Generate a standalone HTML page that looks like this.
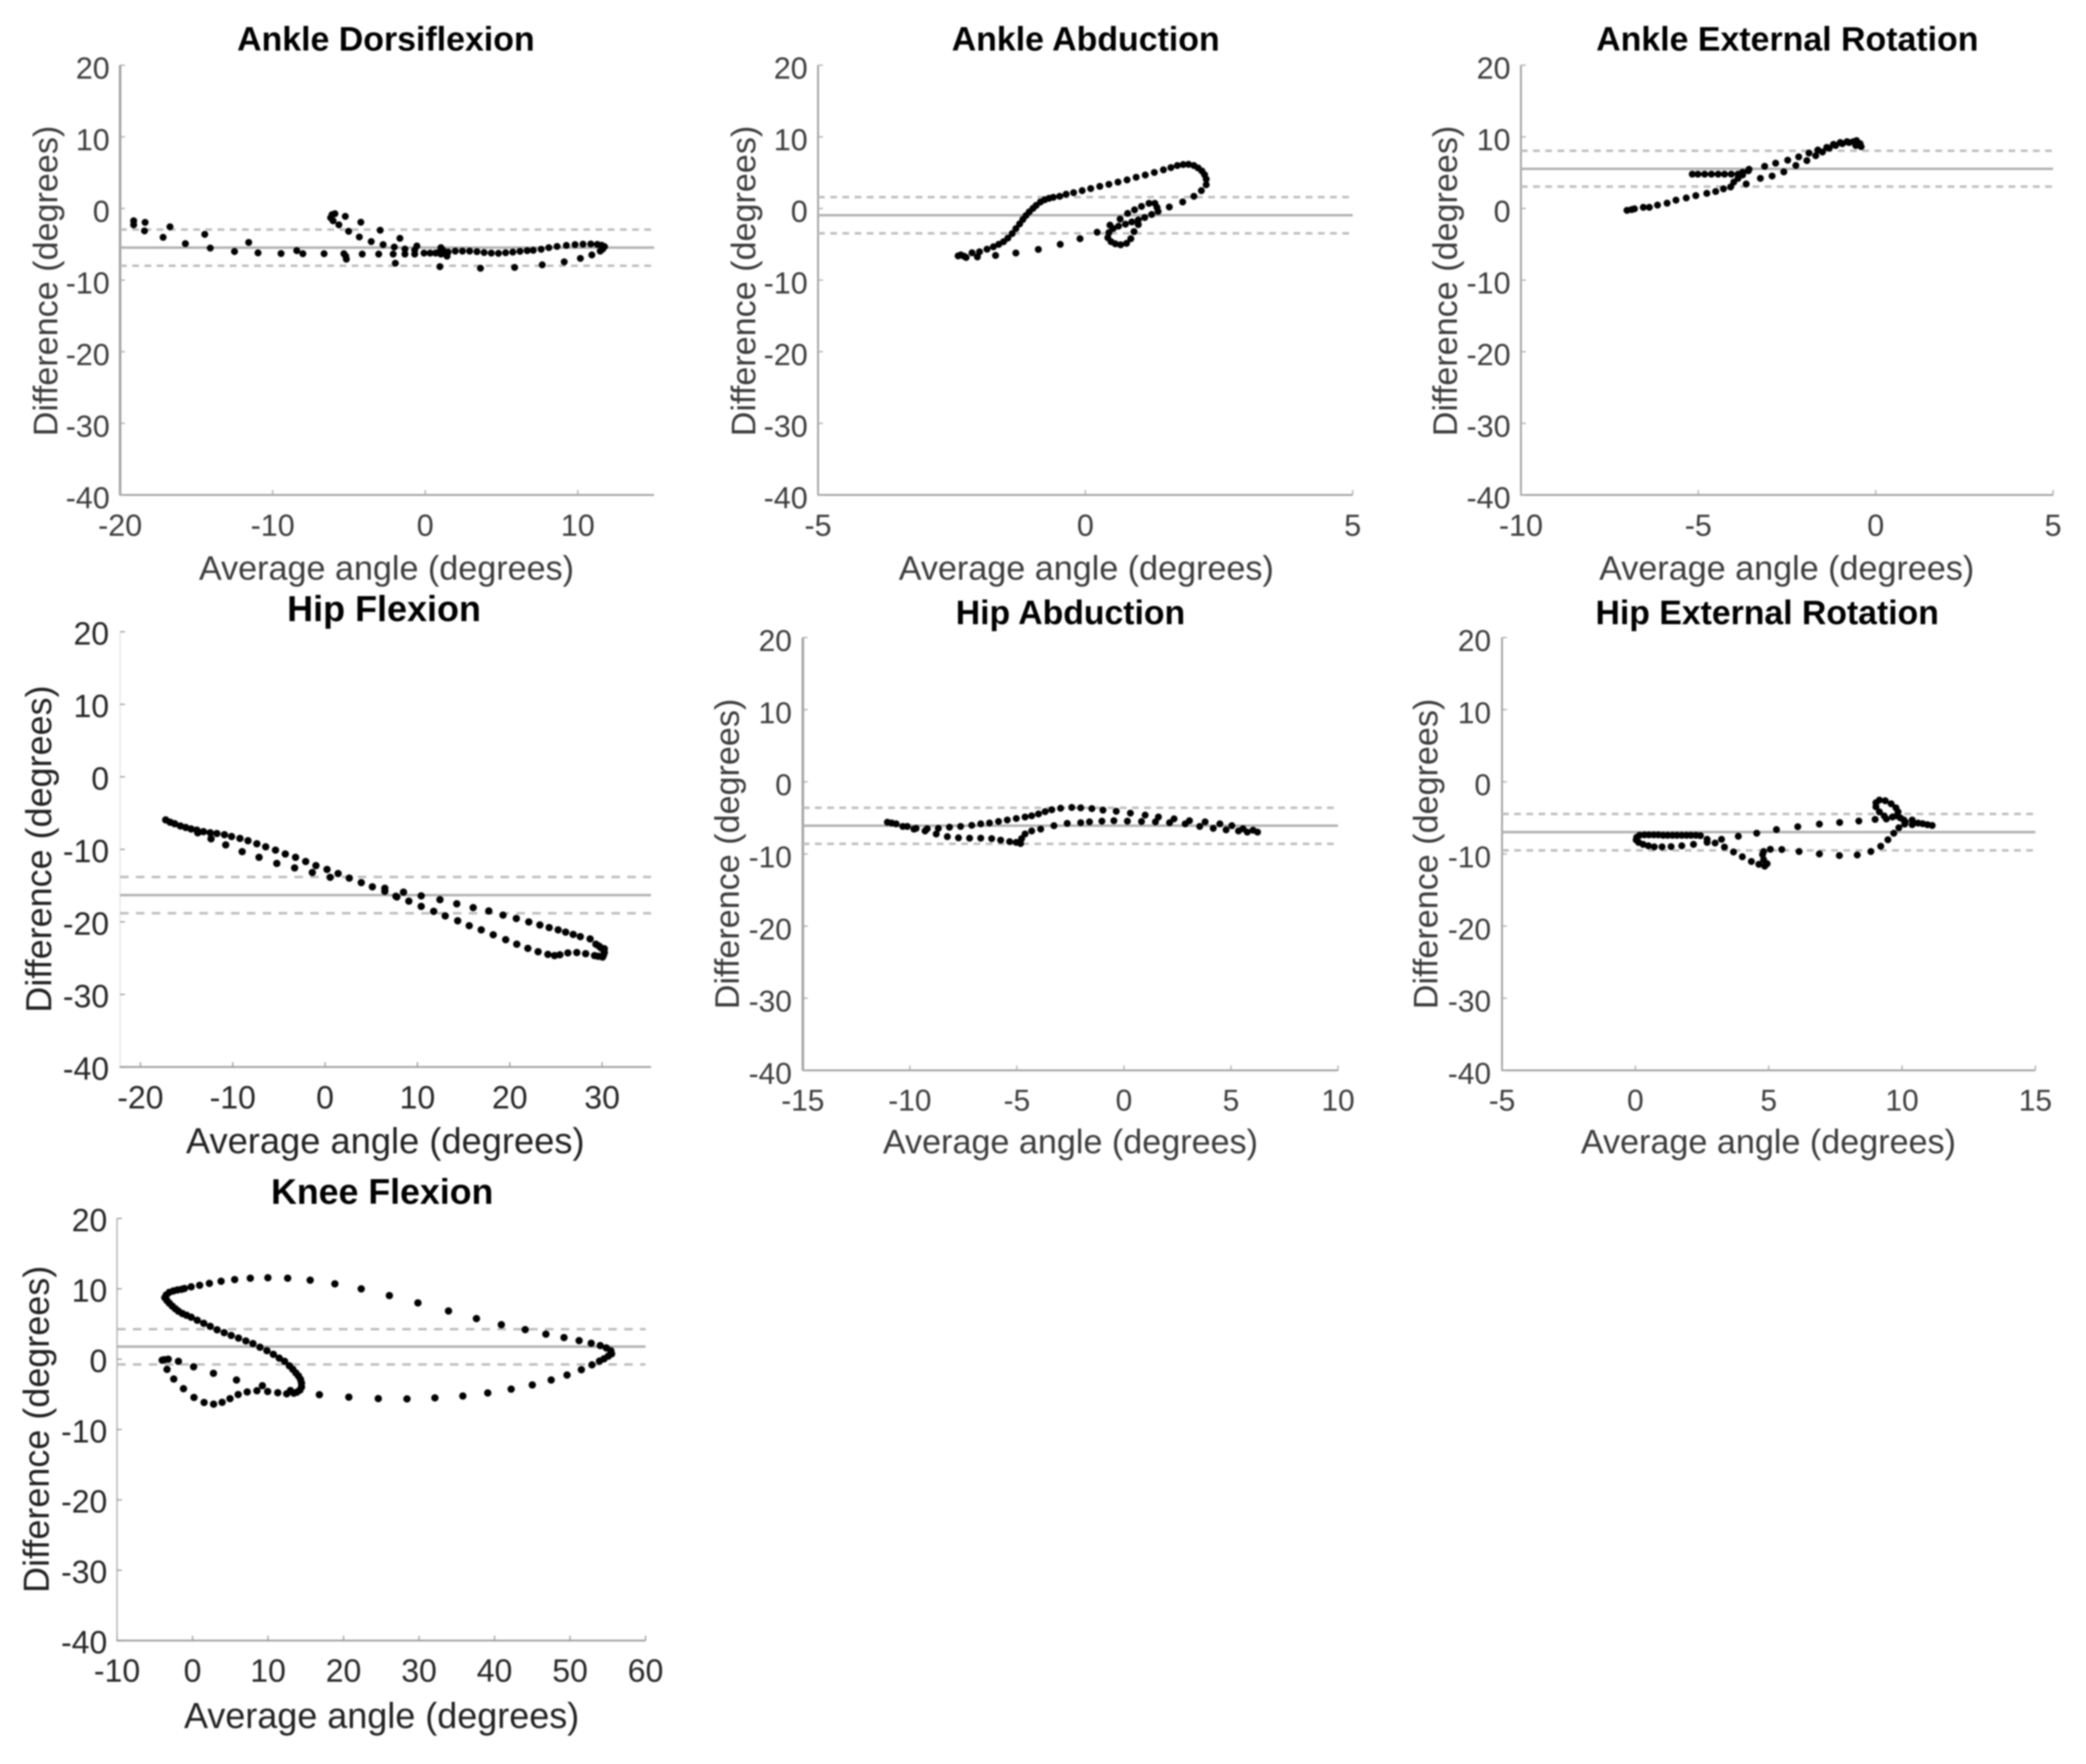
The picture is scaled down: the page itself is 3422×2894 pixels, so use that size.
<!DOCTYPE html>
<html lang="en">
<head>
<meta charset="utf-8">
<title>Difference vs average angle plots</title>
<style>
html,body{margin:0;padding:0;background:#fff;}
#figure{display:block;width:3422px;height:2894px;filter:blur(1.2px);font-family:"Liberation Sans",Arial,sans-serif;}
.t{font-weight:bold;fill:#000;text-anchor:middle;}
.l{fill:#3c3c3c;text-anchor:middle;}
.d{fill:#222;}
</style>
</head>
<body>
<svg id="figure" xmlns="http://www.w3.org/2000/svg" width="3422" height="2894" viewBox="0 0 3422 2894">
<rect width="3422" height="2894" fill="#fff"/>

<g id="p1">
<text class="t" x="633" y="83" font-size="55.6">Ankle Dorsiflexion</text>
<text class="l" x="634" y="951" font-size="56">Average angle (degrees)</text>
<text class="l" transform="translate(94 461) rotate(-90)" font-size="56">Difference (degrees)</text>
</g>

<g id="p2">
<text class="t" x="1781" y="83" font-size="55.6">Ankle Abduction</text>
<text class="l" x="1782" y="951" font-size="56">Average angle (degrees)</text>
<text class="l" transform="translate(1239 461) rotate(-90)" font-size="56">Difference (degrees)</text>
</g>

<g id="p3">
<text class="t" x="2932" y="83" font-size="55.6">Ankle External Rotation</text>
<text class="l" x="2931" y="951" font-size="56">Average angle (degrees)</text>
<text class="l" transform="translate(2390 461) rotate(-90)" font-size="56">Difference (degrees)</text>
</g>

<g id="p4">
<text class="t" x="630" y="1019" font-size="59">Hip Flexion</text>
<text class="l d" x="632" y="1892" font-size="59.5">Average angle (degrees)</text>
<text class="l d" transform="translate(84 1393) rotate(-90)" font-size="59">Difference (degrees)</text>
</g>

<g id="p5">
<text class="t" x="1756" y="1024" font-size="55.4">Hip Abduction</text>
<text class="l" x="1756" y="1892" font-size="56">Average angle (degrees)</text>
<text class="l" transform="translate(1212 1401) rotate(-90)" font-size="56">Difference (degrees)</text>
</g>

<g id="p6">
<text class="t" x="2899" y="1024" font-size="55.4">Hip External Rotation</text>
<text class="l" x="2901" y="1892" font-size="56">Average angle (degrees)</text>
<text class="l" transform="translate(2358 1401) rotate(-90)" font-size="56">Difference (degrees)</text>
</g>

<g id="p7">
<text class="t" x="627" y="1975" font-size="58.6">Knee Flexion</text>
<text class="l d" x="626" y="2835" font-size="59">Average angle (degrees)</text>
<text class="l d" transform="translate(80 2345) rotate(-90)" font-size="59">Difference (degrees)</text>
</g>
</svg>

<script>
const yTickValues = [20, 10, 0, -10, -20, -30, -40];

const ankleDorsiflexionXTicks = [-20, -10, 0, 10];
const ankleAbductionXTicks = [-5, 0, 5];
const ankleRotationXTicks = [-10, -5, 0, 5];
const hipFlexionXTicks = [-20, -10, 0, 10, 20, 30];
const hipAbductionXTicks = [-15, -10, -5, 0, 5, 10];
const hipRotationXTicks = [-5, 0, 5, 10, 15];
const kneeFlexionXTicks = [-10, 0, 10, 20, 30, 40, 50, 60];

// bias, upper limit, lower limit of agreement
const ankleDorsiflexionLimits = [-5.47, -2.95, -8.0];
const ankleAbductionLimits = [-0.95, 1.58, -3.47];
const ankleRotationLimits = [5.53, 8.05, 3.05];
const hipFlexionLimits = [-16.3, -13.8, -18.8];
const hipAbductionLimits = [-6.08, -3.6, -8.6];
const hipRotationLimits = [-6.97, -4.45, -9.5];
const kneeFlexionLimits = [1.78, 4.26, -0.75];

const ankleDorsiflexionAngle = [
-19.11,-19.11,-18.36,-18.40,-16.73,-17.18,-14.45,-15.72,-14.09,-11.57,
-12.5,-10.96,-9.45,-8.42,-8.02,-6.63,-5.33,-5.21,-5.17,-4.13,
-3.05,-6.11,-5.92,-6.2,-6.04,-5.24,-5.66,-4.22,-5.02,-2.95,
-4.32,-3.54,-1.66,-2.76,-2.03,-2.1,-1.96,-1.33,-1.33,-0.55,
-0.69,-0.69,-0.08,0.32,0.68,0.91,1.03,1.27,1.43,1.15,
1.5,1.03,0.96,1.97,2.44,2.91,3.39,3.86,4.33,4.8,
5.27,5.74,6.21,6.68,7.08,7.6,8.1,8.64,9.25,9.82,
10.34,10.85,11.28,11.56,11.75,11.63,11.47,10.92,10.17,9.11,
7.67,5.86,3.62];
const ankleDorsiflexionDiff = [
-1.72,-2.28,-1.94,-3.13,-2.56,-4.03,-3.61,-4.91,-5.53,-4.74,
-6.01,-6.2,-6.29,-5.89,-6.32,-6.32,-6.32,-6.66,-7.08,-6.37,
-6.37,-0.87,-0.73,-1.3,-1.72,-1.1,-2.28,-1.92,-3.19,-3.04,
-3.98,-4.62,-4.17,-5.05,-5.39,-6.37,-7.64,-5.67,-6.37,-5.24,
-5.81,-6.37,-6.23,-6.23,-6.23,-6.09,-6.37,-6.23,-6.66,-5.81,
-6.09,-5.47,-8.12,-5.95,-5.95,-5.95,-6.03,-6.15,-6.23,-6.26,
-6.18,-6.09,-5.98,-5.89,-5.84,-5.7,-5.47,-5.3,-5.16,-5.05,
-4.99,-4.96,-5.02,-5.13,-5.33,-5.67,-5.95,-6.49,-6.97,-7.45,
-7.87,-8.23,-8.35];

const ankleAbductionAngle = [
-2.38,-2.33,-2.27,-2.23,-2.12,-2.02,-1.98,-1.84,-1.72,-1.68,
-1.62,-1.53,-1.45,-1.37,-1.3,-1.23,-1.17,-1.11,-1.05,-0.98,
-0.92,-0.84,-0.76,-0.68,-0.6,-0.48,-0.36,-0.22,-0.06,0.1,
0.27,0.44,0.61,0.78,0.95,1.12,1.29,1.46,1.6,1.72,
1.83,1.93,2.03,2.11,2.18,2.23,2.26,2.26,2.17,2.03,
1.82,1.57,1.36,1.34,1.3,1.19,1.05,0.92,0.79,0.65,
0.46,1.24,1.11,0.99,0.87,0.75,0.62,0.52,0.44,0.42,
0.48,0.56,0.66,0.77,0.85,0.91,0.99,0.22,-0.1,-0.47,
-0.88,-1.3];
const ankleAbductionDiff = [
-6.62,-6.48,-6.67,-6.84,-6.19,-6.76,-6.05,-5.69,-5.35,-6.56,
-5.01,-4.64,-4.14,-3.51,-2.81,-2.16,-1.54,-0.98,-0.47,0.01,
0.43,0.91,1.22,1.42,1.56,1.7,1.99,2.21,2.49,2.78,
3.09,3.37,3.68,3.99,4.36,4.67,5.03,5.4,5.71,5.99,
6.13,6.16,5.99,5.65,5.23,4.72,4.1,3.31,2.49,1.7,
0.91,0.21,-0.41,0.15,0.72,0.72,0.29,-0.19,-0.69,-1.48,
-2.33,-0.84,-1.26,-1.6,-1.88,-2.19,-2.47,-2.81,-3.37,-4.08,
-4.64,-4.93,-5.07,-4.87,-4.22,-3.23,-2.25,-3.32,-4.22,-5.01,
-5.72,-6.22];

const ankleRotationAngle = [
-7.01,-6.88,-6.8,-6.55,-6.38,-6.15,-5.88,-5.63,-5.34,-5.07,
-4.76,-4.51,-4.29,-4.09,-4.0,-3.88,-3.75,-3.59,-5.17,-5.01,
-4.82,-4.63,-4.44,-4.26,-4.07,-3.88,-3.75,-3.57,-3.65,-3.25,
-2.92,-2.59,-2.25,-1.94,-1.69,-1.5,-1.31,-1.13,-0.94,-0.75,
-3.13,-2.82,-2.48,-2.17,-1.88,-1.63,-1.38,-1.19,-1.0,-0.81,
-0.63,-0.54,-0.44,-0.41,-0.56];
const ankleRotationDiff = [
-0.26,-0.16,-0.05,0.16,0.16,0.47,0.74,1.16,1.47,1.79,
2.11,2.37,2.74,3.0,3.68,4.21,4.68,5.26,4.79,4.79,
4.79,4.79,4.79,4.79,4.79,4.79,5.05,5.47,3.42,4.21,
4.53,5.11,6.0,6.68,7.37,7.89,8.42,8.79,9.05,9.21,
5.89,6.32,6.74,7.21,7.74,8.16,8.53,8.95,9.21,9.32,
9.32,9.47,9.05,8.63,8.79];

const hipFlexionAngle = [
-17.26,-16.78,-16.29,-15.67,-15.09,-14.51,-13.89,-13.17,-12.44,-11.72,
-10.9,-10.13,-9.22,-8.35,-7.39,-6.43,-5.37,-4.31,-3.2,-2.1,
-0.99,0.21,1.41,2.62,3.92,5.12,6.47,7.67,8.49,10.41,
12.44,14.26,16.04,17.73,19.27,20.71,22.06,23.26,24.27,25.24,
26.05,26.87,27.64,28.7,29.33,29.9,30.24,30.05,29.18,28.22,
27.26,26.29,25.43,24.85,24.13,23.07,21.96,20.76,19.56,18.21,
16.91,15.61,14.36,13.01,11.76,10.41,9.07,7.77,6.47,0.55,
-1.38,-3.3,-5.23,-7.15,-8.98,-10.76,-12.35,-13.79,30.14,29.57,
30.24,29.66];
const hipFlexionDiff = [
-5.94,-6.25,-6.46,-6.77,-6.98,-7.19,-7.34,-7.55,-7.71,-7.81,
-7.97,-8.23,-8.49,-8.8,-9.22,-9.64,-10.1,-10.63,-11.09,-11.67,
-12.24,-12.76,-13.33,-13.96,-14.58,-15.16,-15.78,-16.46,-15.89,-16.41,
-16.93,-17.5,-18.03,-18.49,-19.06,-19.53,-20.0,-20.42,-20.78,-21.09,
-21.41,-21.72,-22.03,-22.34,-23.07,-23.59,-24.22,-24.84,-24.64,-24.38,
-24.22,-24.27,-24.53,-24.64,-24.48,-24.11,-23.65,-23.07,-22.45,-21.77,
-21.09,-20.52,-19.84,-19.17,-18.54,-17.86,-17.13,-16.56,-15.36,-13.85,
-13.18,-12.55,-11.93,-11.09,-10.31,-9.38,-8.54,-7.71,-24.6,-24.74,
-23.7,-23.33];

const hipAbductionAngle = [
-11.05,-10.85,-10.64,-10.33,-9.81,-9.29,-8.77,-8.25,-7.73,-7.21,
-6.69,-6.18,-5.76,-5.34,-5.03,-4.83,-4.78,-4.62,-4.31,-3.89,
-3.27,-2.65,-2.02,-1.61,-1.03,-0.47,0.16,0.82,1.47,2.13,
2.86,3.54,4.17,4.77,5.35,5.76,6.24,6.03,5.56,5.04,
4.48,3.79,3.06,2.34,1.61,0.99,0.3,-0.36,-0.98,-1.5,
-2.02,-2.44,-2.96,-3.37,-3.68,-3.99,-4.31,-4.62,-5.03,-5.45,
-5.86,-6.28,-6.69,-7.11,-7.63,-8.15,-8.67,-9.19,-9.71,-10.12];
const hipAbductionDiff = [
-5.6,-5.71,-5.82,-6.18,-6.55,-6.81,-7.23,-7.6,-7.76,-7.81,
-7.81,-7.87,-8.08,-8.29,-8.39,-8.55,-7.87,-7.23,-6.81,-6.55,
-6.08,-5.76,-5.66,-5.55,-5.45,-5.39,-5.45,-5.5,-5.55,-5.66,
-5.82,-6.18,-6.45,-6.66,-6.81,-6.97,-6.97,-6.71,-6.5,-6.08,
-5.82,-5.55,-5.39,-5.13,-4.87,-4.61,-4.34,-4.08,-3.92,-3.71,
-3.61,-3.55,-3.66,-3.87,-4.13,-4.45,-4.71,-4.87,-5.08,-5.29,
-5.5,-5.71,-5.82,-6.03,-6.18,-6.29,-6.45,-6.5,-6.45,-6.18];

const hipRotationAngle = [
2.44,2.27,2.09,1.92,1.74,1.56,1.39,1.21,1.04,0.86,
0.69,0.51,0.34,0.16,0.05,0.03,0.12,0.29,0.49,0.71,
1.0,1.34,1.74,2.18,2.69,2.69,2.99,3.23,3.34,3.68,
4.01,4.35,4.63,4.85,4.94,4.81,4.77,4.81,5.06,5.49,
6.14,6.9,7.65,8.32,8.83,9.2,9.47,9.69,9.88,10.1,
10.12,10.38,10.38,10.6,10.77,10.95,11.13,3.86,4.55,5.29,
6.09,6.9,7.66,8.38,8.99,9.41,9.81,9.85,9.77,9.59,
9.37,9.15,9.02,9.02,9.15,9.33,9.64,9.94,10.07];
const hipRotationDiff = [
-7.46,-7.41,-7.41,-7.41,-7.41,-7.41,-7.41,-7.41,-7.41,-7.35,
-7.35,-7.35,-7.35,-7.41,-7.69,-8.05,-8.39,-8.67,-8.87,-9.01,
-9.01,-8.98,-8.87,-8.67,-7.97,-8.39,-8.48,-7.97,-9.04,-9.72,
-10.39,-11.04,-11.43,-11.69,-11.35,-10.79,-10.08,-9.66,-9.35,-9.38,
-9.66,-10.0,-10.22,-10.14,-9.66,-8.93,-8.03,-7.12,-6.36,-5.86,
-5.57,-5.29,-5.94,-5.72,-5.8,-5.94,-6.05,-7.55,-7.12,-6.62,
-6.22,-5.86,-5.63,-5.43,-5.21,-5.15,-4.73,-4.17,-3.6,-3.04,
-2.62,-2.53,-2.9,-3.46,-4.17,-4.73,-4.87,-5.01,-5.29];

const kneeFlexionAngle = [
-3.67,-3.48,-3.08,-2.54,-2.01,-1.47,-1.07,-0.18,0.94,2.23,
3.78,5.58,7.65,9.98,12.6,15.58,18.85,22.34,26.07,29.85,
33.9,37.6,40.9,44.06,46.8,49.2,51.2,52.8,54.0,54.8,
55.4,55.5,55.06,54.5,53.9,52.9,51.5,49.6,47.5,45.0,
42.2,39.1,35.8,32.1,28.4,24.6,20.7,16.8,-3.4,-3.08,
-2.68,-2.28,-1.87,-1.34,-0.8,-0.18,0.62,1.48,2.34,3.25,
4.19,5.12,6.09,7.06,8.0,8.93,9.85,10.7,11.48,12.2,
12.82,13.28,13.68,14.03,14.3,14.43,14.43,14.22,13.81,13.41,
12.96,12.47,11.29,9.95,9.25,8.53,7.24,6.04,4.96,3.92,
2.79,1.53,0.19,-1.2,-2.49,-3.38,-4.02,-3.75,-3.22,-1.87,
0.14,2.77,5.82];
const kneeFlexionDiff = [
8.75,9.13,9.5,9.7,9.84,9.93,10.05,10.28,10.5,10.77,
11.08,11.31,11.51,11.57,11.51,11.23,10.71,9.99,9.04,8.0,
6.85,5.77,4.9,4.2,3.56,3.07,2.64,2.26,1.93,1.6,
1.19,0.75,0.43,0.05,-0.27,-0.81,-1.5,-2.26,-2.96,-3.66,
-4.26,-4.8,-5.23,-5.5,-5.65,-5.6,-5.4,-5.05,8.35,7.97,
7.54,7.17,6.82,6.48,6.25,5.96,5.53,5.1,4.66,4.18,
3.77,3.37,3.0,2.59,2.22,1.7,1.21,0.69,0.15,-0.31,
-0.95,-1.44,-1.95,-2.39,-2.87,-3.39,-3.97,-4.4,-4.69,-4.83,
-4.46,-4.92,-4.77,-4.6,-3.77,-4.49,-4.66,-5.03,-5.61,-6.13,
-6.39,-6.16,-5.44,-4.2,-2.82,-1.46,-0.14,-0.08,0.0,-0.31,
-1.09,-2.01,-2.96];

const SVG_NS = 'http://www.w3.org/2000/svg';

function makeScale(domainMin, domainMax, rangeStart, rangeEnd) {
  return function (v) {
    return rangeStart + (v - domainMin) / (domainMax - domainMin) * (rangeEnd - rangeStart);
  };
}

function addLine(parent, x1, y1, x2, y2, color, width, dash) {
  const el = document.createElementNS(SVG_NS, 'line');
  el.setAttribute('x1', x1);
  el.setAttribute('y1', y1);
  el.setAttribute('x2', x2);
  el.setAttribute('y2', y2);
  el.setAttribute('stroke', color);
  el.setAttribute('stroke-width', width);
  if (dash) el.setAttribute('stroke-dasharray', dash);
  parent.appendChild(el);
  return el;
}

function addLabel(parent, x, y, str, size, anchor, color) {
  const el = document.createElementNS(SVG_NS, 'text');
  el.setAttribute('x', x);
  el.setAttribute('y', y);
  el.setAttribute('font-size', size);
  el.setAttribute('text-anchor', anchor);
  el.setAttribute('fill', color);
  el.textContent = String(str);
  parent.appendChild(el);
  return el;
}

function drawPanel(cfg) {
  const g = document.getElementById(cfg.id);
  const sx = makeScale(cfg.xMin, cfg.xMax, cfg.left, cfg.right);
  const sy = makeScale(-40, 20, cfg.bottom, cfg.top);

  const yAxis = addLine(g, cfg.left, cfg.top, cfg.left, cfg.bottom, cfg.yAxisColor, cfg.yAxisWidth);
  
  
  const xAxis = addLine(g, cfg.left - 1, cfg.bottom, cfg.right, cfg.bottom, '#a0a0a0', 3);
  
  

  yTickValues.forEach(function (v) {
    const tick = addLine(g, cfg.left, sy(v), cfg.left + 8, sy(v), cfg.tickColor, 2);
    
    
    const lab = addLabel(g, cfg.left - cfg.yPad, sy(v) + cfg.yBase, v, cfg.tickSize, 'end', cfg.textColor);
    
    
  });

  cfg.xTicks.forEach(function (v) {
    const tick = addLine(g, sx(v), cfg.bottom, sx(v), cfg.bottom - 8, cfg.tickColor, 2);
    
    
    const lab = addLabel(g, sx(v), cfg.bottom + cfg.xBase, v, cfg.tickSize, 'middle', cfg.textColor);
    
    
  });

  const mean = addLine(g, cfg.left, sy(cfg.limits[0]), cfg.right, sy(cfg.limits[0]), '#b0b0b0', 4);
  
  
  const upper = addLine(g, cfg.left, sy(cfg.limits[1]), cfg.right, sy(cfg.limits[1]), '#bdbdbd', 4, cfg.dash);
  
  
  const lower = addLine(g, cfg.left, sy(cfg.limits[2]), cfg.right, sy(cfg.limits[2]), '#bdbdbd', 4, cfg.dash);
  
  

  cfg.angle.forEach(function (a, i) {
    const dot = document.createElementNS(SVG_NS, 'circle');
    dot.setAttribute('cx', sx(a));
    dot.setAttribute('cy', sy(cfg.diff[i]));
    dot.setAttribute('r', cfg.r);
    dot.setAttribute('fill', '#000');
    
    
    g.appendChild(dot);
  });
}

const topStyle = {yAxisColor:'#a0a0a0', yAxisWidth:3, tickColor:'#aaaaaa', textColor:'#3c3c3c', tickSize:50, yPad:17, yBase:22, xBase:67, dash:'11 9', r:5.7};
const darkStyle = {tickColor:'#999999', textColor:'#262626', tickSize:52.5, yPad:18, yBase:21, xBase:68, dash:'14 12', r:6};

drawPanel(Object.assign({}, topStyle, {id:'p1', left:197, right:1073, top:107, bottom:812, xMin:-20, xMax:15, xTicks:ankleDorsiflexionXTicks, limits:ankleDorsiflexionLimits, angle:ankleDorsiflexionAngle, diff:ankleDorsiflexionDiff, yAxisWidth:4}));
drawPanel(Object.assign({}, topStyle, {id:'p2', left:1342, right:2219, top:107, bottom:812, xMin:-5, xMax:5, xTicks:ankleAbductionXTicks, limits:ankleAbductionLimits, angle:ankleAbductionAngle, diff:ankleAbductionDiff}));
drawPanel(Object.assign({}, topStyle, {id:'p3', left:2495, right:3368, top:107, bottom:812, xMin:-10, xMax:5, xTicks:ankleRotationXTicks, limits:ankleRotationLimits, angle:ankleRotationAngle, diff:ankleRotationDiff}));
drawPanel(Object.assign({}, darkStyle, {id:'p4', left:197, right:1068, top:1036.5, bottom:1750.5, xMin:-22.2, xMax:35.3, xTicks:hipFlexionXTicks, limits:hipFlexionLimits, angle:hipFlexionAngle, diff:hipFlexionDiff, yAxisColor:'#e4e4e4', yAxisWidth:2}));
drawPanel(Object.assign({}, topStyle, {id:'p5', left:1317, right:2195, top:1046, bottom:1756, xMin:-15, xMax:10, xTicks:hipAbductionXTicks, limits:hipAbductionLimits, angle:hipAbductionAngle, diff:hipAbductionDiff, tickSize:49, yPad:18, xBase:66, yAxisWidth:4}));
drawPanel(Object.assign({}, topStyle, {id:'p6', left:2464, right:3339, top:1046, bottom:1756, xMin:-5, xMax:15, xTicks:hipRotationXTicks, limits:hipRotationLimits, angle:hipRotationAngle, diff:hipRotationDiff, tickSize:49, yPad:18, xBase:66}));
drawPanel(Object.assign({}, darkStyle, {id:'p7', left:192, right:1059, top:1999, bottom:2691.5, xMin:-10, xMax:60, xTicks:kneeFlexionXTicks, limits:kneeFlexionLimits, angle:kneeFlexionAngle, diff:kneeFlexionDiff, yAxisColor:'#a8a8a8', yAxisWidth:2, yPad:16, xBase:67.5}));
</script>
</body>
</html>
